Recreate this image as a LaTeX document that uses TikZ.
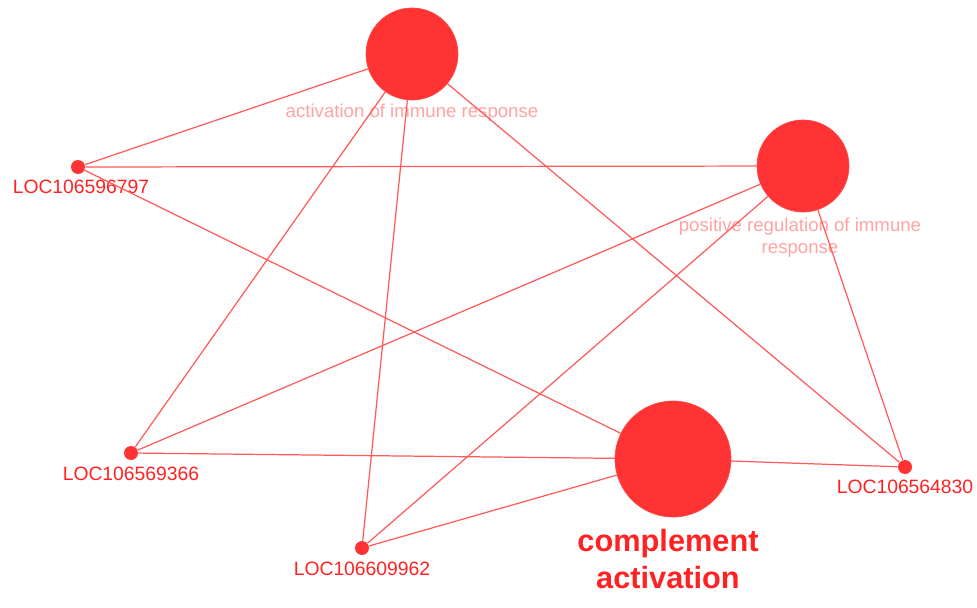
\documentclass[tikz,border=0pt]{standalone}
\usepackage{fontspec}
\setmainfont{Liberation Sans}
\definecolor{relleno}{HTML}{FF3333}
\definecolor{linea}{HTML}{FF5A5A}
\definecolor{rosa}{HTML}{FFA3A3}
\definecolor{rojo}{HTML}{FF2222}

\begin{document}
\begin{tikzpicture}[x=0.02cm, y=-0.02cm,
    termino/.style={circle, fill=relleno, draw=relleno!90!white, inner sep=0pt},
    gen/.style={circle, fill=relleno, inner sep=0pt, minimum size=0.28cm},
    etiqueta/.style={text=rosa, font=\fontsize{10.6}{12.5}\selectfont, inner sep=0pt, align=center},
    locname/.style={text=rojo, font=\fontsize{11}{13}\selectfont, inner sep=0pt},
    arista/.style={linea, line width=0.7pt}]
    \useasboundingbox (0,0) rectangle (977,608);

    % Terminos
    \node[termino, minimum size=1.84cm] (act) at (412,54) {};
    \node[termino, minimum size=1.84cm] (pos) at (803,166) {};
    \node[termino, minimum size=2.32cm] (comp) at (673,459) {};

    % Genes
    \node[gen] (g797) at (78,167) {};
    \node[gen] (g366) at (131,453) {};
    \node[gen] (g962) at (362,548) {};
    \node[gen] (g830) at (905,467) {};

    % Etiquetas
    \node[etiqueta] (lact) at (412,113) {activation of immune response};
    \node[etiqueta] (lpos) at (800,238) {positive regulation of immune\\response};
    \node[text=rojo, font=\bfseries\fontsize{17.5}{21}\selectfont, align=center, inner sep=0pt] (lcomp) at (668,559) {complement\\activation};
    \node[locname] (l797) at (81,187) {LOC106596797};
    \node[locname] (l366) at (131,474) {LOC106569366};
    \node[locname] (l962) at (362,569) {LOC106609962};
    \node[locname] (l830) at (905,487) {LOC106564830};

    % Aristas
    \foreach \t in {act, pos, comp}
        \foreach \g in {g797, g366, g962, g830}
            \draw[arista] (\t) -- (\g);
\end{tikzpicture}
\end{document}
